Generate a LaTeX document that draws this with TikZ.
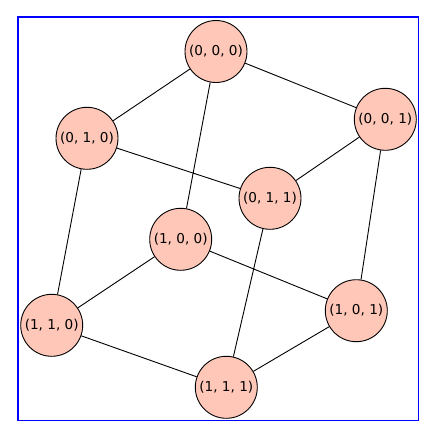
\documentclass[tikz,border=0pt]{standalone}
\usepackage{fontspec}
\setmainfont{DejaVu Sans}
\definecolor{vfill}{HTML}{FEC7B8}
\begin{document}
\begin{tikzpicture}[x=1pt,y=-1pt,
  vtx/.style={circle,draw=black,line width=0.9pt,fill=vfill,minimum size=62pt,inner sep=0pt,font=\fontsize{13.6}{16}\selectfont},
  edge/.style={draw=black,line width=0.9pt}]
\useasboundingbox (0,0) rectangle (436,439);
\draw[blue,line width=1.8pt] (17.7,16.7) rectangle (418.5,420.5);
\node[vtx] (a) at (216,51.5) {(0, 0, 0)};
\node[vtx] (b) at (385.3,119.3) {(0, 0, 1)};
\node[vtx] (c) at (87,138.3) {(0, 1, 0)};
\node[vtx] (d) at (270,198.3) {(0, 1, 1)};
\node[vtx] (e) at (180.7,239.3) {(1, 0, 0)};
\node[vtx] (f) at (356.3,310.7) {(1, 0, 1)};
\node[vtx] (g) at (51.7,325.3) {(1, 1, 0)};
\node[vtx] (h) at (226.3,387.3) {(1, 1, 1)};
\begin{scope}[on background layer/.style={}]
\end{scope}
\path[edge] (a) -- (b) (a) -- (c) (a) -- (e)
  (b) -- (d) (b) -- (f)
  (c) -- (d) (c) -- (g)
  (d) -- (h)
  (e) -- (f) (e) -- (g)
  (f) -- (h)
  (g) -- (h);
\end{tikzpicture}
\end{document}
